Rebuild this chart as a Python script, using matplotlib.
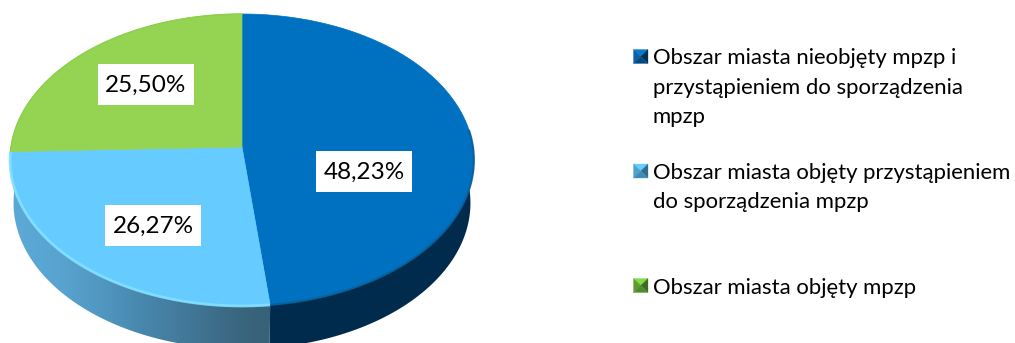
import numpy as np
import matplotlib
matplotlib.use("Agg")
import matplotlib.pyplot as plt
from matplotlib.patches import Polygon, Rectangle

plt.rcParams['font.family'] = ['Lato', 'DejaVu Sans']

# Shares of the city area, clockwise from twelve o'clock
shares = [48.23, 26.27, 25.50]
legend_labels = [
    "Obszar miasta nieobjęty mpzp i\nprzystąpieniem do sporządzenia\nmpzp",
    "Obszar miasta objęty przystąpieniem\ndo sporządzenia mpzp",
    "Obszar miasta objęty mpzp",
]
top_colors = ["#0070c0", "#66ccff", "#95d352"]

W, H = 1015, 343
fig = plt.figure(figsize=(W / 100, H / 100), dpi=100)
ax = fig.add_axes([0, 0, 1, 1])
ax.set_xlim(0, W)
ax.set_ylim(H, 0)
ax.axis("off")

# Tilted disc: a unit circle seen in perspective
CX, CY = 242.0, 147.0
RX, RY, PERSP = 231.0, 131.75, 0.089
DEPTH = 43.0
BASE_SCALE = 0.985


def project(t, r=1.0):
    u, v = r * np.sin(t), r * np.cos(t)
    d = 1 + PERSP * v
    return CX + RX * u / d, (CY - RY * v) / d


def arc(a, b, r=1.0, n=240):
    x, y = project(np.linspace(a, b, n), r)
    return np.column_stack([x, y])


edges = np.concatenate([[0], np.cumsum(shares) / np.sum(shares)]) * 2 * np.pi


def side_poly(a, b):
    outer = arc(a, b)
    lower = outer[::-1].copy()
    lower[:, 0] = CX + (lower[:, 0] - CX) * BASE_SCALE
    lower[:, 1] += DEPTH
    return np.vstack([outer, lower])


# Side wall of the dark blue slice, flat shade
a0 = np.pi / 2 - 0.12
ax.add_patch(Polygon(side_poly(a0, edges[1]), closed=True, fc="#002b4c", ec="none", zorder=1))

# Side wall of the light blue slice, shaded left to right
grad = np.array([[[0.36, 0.66, 0.84], [0.33, 0.62, 0.79], [0.28, 0.53, 0.68],
                  [0.26, 0.47, 0.60], [0.22, 0.38, 0.47]]])
im = ax.imshow(grad, extent=[8, 271, H, 150], aspect="auto", interpolation="bicubic", zorder=1)
clip = Polygon(side_poly(edges[1], edges[2] + 0.01), closed=True, transform=ax.transData, fc="none", ec="none")
ax.add_patch(clip)
im.set_clip_path(clip)
ax.set_xlim(0, W)
ax.set_ylim(H, 0)

# Top faces of the slices
for i, col in enumerate(top_colors):
    pts = np.vstack([[CX, CY], arc(edges[i], edges[i + 1])])
    ax.add_patch(Polygon(pts, closed=True, fc=col, ec=col, lw=0.5, zorder=2))

# Soft rims along the front of the disc
ax.plot(*arc(edges[1], edges[2]).T, color="#85e0ff", lw=2.0, alpha=0.9, zorder=3,
        solid_capstyle="butt")
ax.plot(*arc(a0, edges[1]).T, color="#0a5c94", lw=1.5, alpha=0.8, zorder=3,
        solid_capstyle="butt")
ax.plot(*arc(edges[2], edges[3]).T, color="#8ccf4c", lw=1.0, zorder=3)

# Value labels on white boxes
label_boxes = [(316, 151, 96, 41), (105, 205, 96, 41), (98, 64, 96, 41)]
for v, (bx, by, bw, bh) in zip(shares, label_boxes):
    ax.add_patch(Rectangle((bx, by), bw, bh, fc="white", ec="none", zorder=4))
    ax.text(bx + bw / 2, by + bh / 2 + 0.5, f"{v:.2f}%".replace(".", ","),
            fontsize=17.5, ha="center", va="center", color="black", zorder=5)

# Legend with bevelled swatches: top, left, right, bottom facets meeting at the centre
swatch_shades = [
    ("#0a78d0", "#0a5fa5", "#02304f", "#024a80"),
    ("#66ccff", "#4fa3cc", "#2f6f8e", "#3f8cb4"),
    ("#80dc48", "#5f9c30", "#3c6b22", "#4f8a2c"),
]
legend_rows = [56.5, 171, 285.5]
line_step = 29.2
for lab, shades, y in zip(legend_labels, swatch_shades, legend_rows):
    l, r, t, b = 633.5, 648.0, y - 7.0, y + 7.0
    mx, my = (l + r) / 2, (t + b) / 2
    facets = [
        ([(l, t), (r, t), (mx, my)], shades[0]),
        ([(l, t), (l, b), (mx, my)], shades[1]),
        ([(r, t), (r, b), (mx, my)], shades[2]),
        ([(l, b), (r, b), (mx, my)], shades[3]),
    ]
    for pts, c in facets:
        ax.add_patch(Polygon(pts, closed=True, fc=c, ec=c, lw=0.2, zorder=4))
    for j, line in enumerate(lab.split("\n")):
        ax.text(653, y + j * line_step, line, fontsize=15.95, ha="left", va="center_baseline",
                color="black", zorder=5)

fig.savefig("out.png", dpi=100, facecolor="white")
